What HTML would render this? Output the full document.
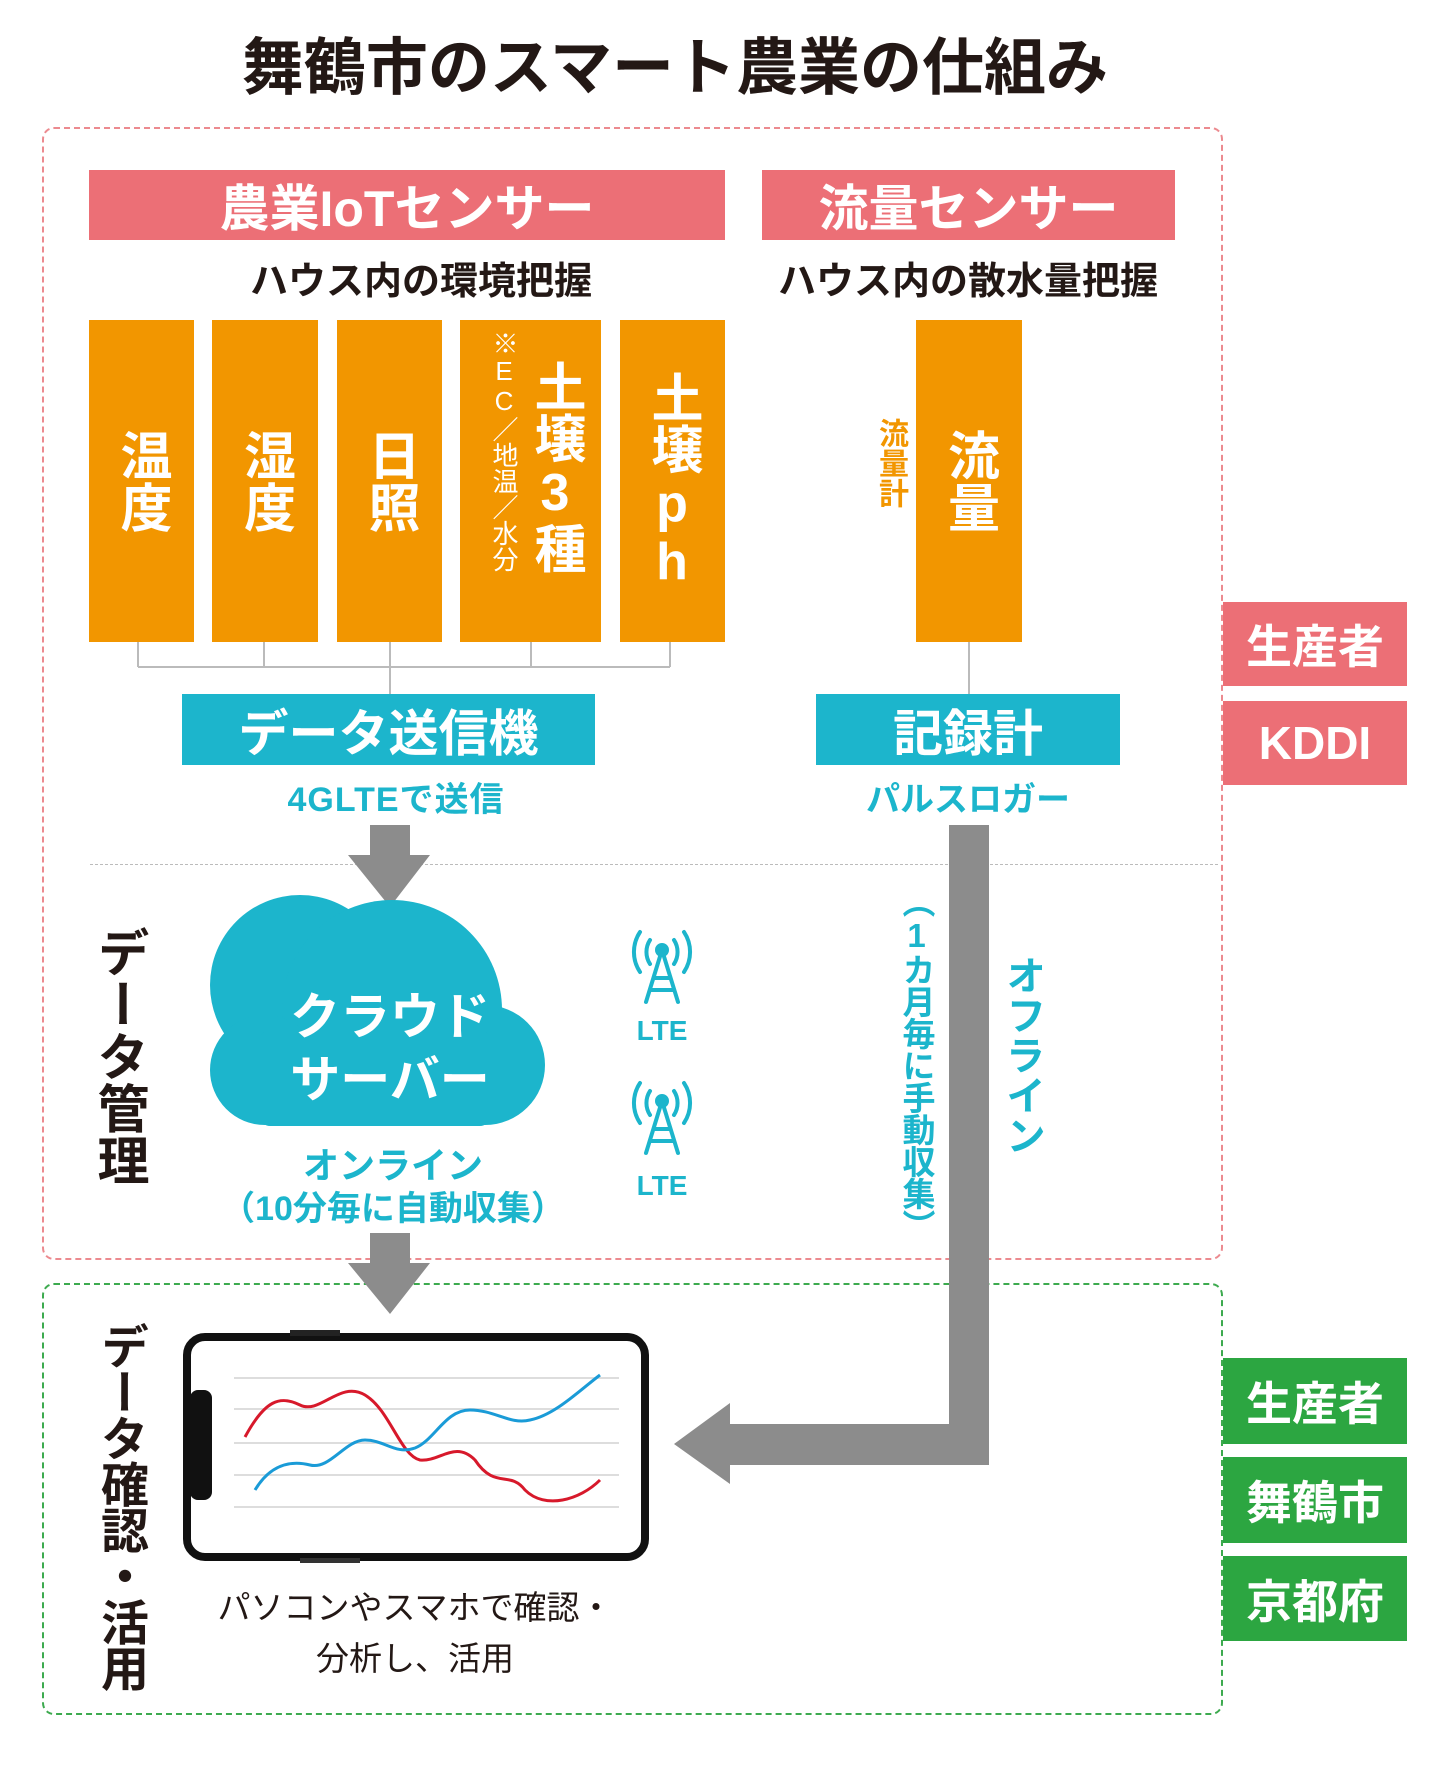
<!DOCTYPE html>
<html><head><meta charset="utf-8"><style>
*{margin:0;padding:0;box-sizing:border-box}
body{width:1437px;height:1768px;position:relative;background:#fff;font-family:"Liberation Sans","Noto Sans CJK JP",sans-serif;overflow:hidden}
.a{position:absolute}
.c{display:flex;align-items:center;justify-content:center;text-align:center;white-space:nowrap}
.pk{background:#ec6f76;color:#fff;font-weight:bold}
.cy{background:#1cb5cc;color:#fff;font-weight:bold}
.gr{background:#2ca641;color:#fff;font-weight:bold}
.or{background:#f29600;color:#fff;font-weight:bold}
.v{writing-mode:vertical-rl;text-orientation:upright}
</style></head><body>
<div class="a c" style="left:0;width:1350px;top:22px;height:80px;font-size:62px;font-weight:bold;color:#231815">舞鶴市のスマート農業の仕組み</div>

<div class="a" style="left:42px;top:127px;width:1181px;height:1133px;border:2px dashed #ec8a8f;border-radius:12px"></div>
<div class="a" style="left:42px;top:1283px;width:1181px;height:432px;border:2px dashed #3daa4f;border-radius:12px"></div>
<div class="a" style="left:90px;top:864px;width:1128px;border-top:1px dashed #bbb"></div>

<div class="a c pk" style="left:89px;top:170px;width:636px;height:70px;font-size:50px">農業IoTセンサー</div>
<div class="a c pk" style="left:762px;top:170px;width:413px;height:70px;font-size:50px">流量センサー</div>
<div class="a c" style="left:200px;width:442px;top:255px;height:44px;font-size:38px;font-weight:bold;color:#231815">ハウス内の環境把握</div>
<div class="a c" style="left:740px;width:456px;top:255px;height:44px;font-size:38px;font-weight:bold;color:#231815">ハウス内の散水量把握</div>

<div class="a c or v" style="left:89px;top:320px;width:105px;height:322px;font-size:52px">温度</div>
<div class="a c or v" style="left:212px;top:320px;width:106px;height:322px;font-size:52px">湿度</div>
<div class="a c or v" style="left:337px;top:320px;width:105px;height:322px;font-size:52px">日照</div>
<div class="a or" style="left:460px;top:320px;width:141px;height:322px"></div>
<div class="a v" style="left:486px;top:330px;font-size:26px;color:#fff;font-weight:normal">※EC／地温／水分</div>
<div class="a v" style="left:525px;top:360px;font-size:52px;color:#fff;font-weight:bold;line-height:60px">土壌3種</div>
<div class="a c or v" style="left:620px;top:320px;width:105px;height:322px;font-size:52px">土壌ph</div>
<div class="a c or v" style="left:916px;top:320px;width:106px;height:322px;font-size:52px">流量</div>
<div class="a v" style="left:868px;top:418px;font-size:30px;color:#f29600;font-weight:bold">流量計</div>

<svg class="a" style="left:0;top:0" width="1437" height="1768">
<g stroke="#bbb" stroke-width="2" fill="none">
<path d="M138 642V667M264 642V667M390 642V694M531 642V667M670 642V667M138 667H670"/>
<path d="M969 642V694"/>
</g>
<g fill="#8c8c8c">
<path d="M370 825H410V855H430L390 907L348 855H370Z"/>
<path d="M370 1233H410V1263H430L390 1314L348 1263H370Z"/>
<path d="M949 825H989V1465H730V1484L674 1444L730 1403V1424H949Z"/>
</g>
<g fill="#1cb5cc">
<circle cx="300" cy="985" r="90"/>
<circle cx="392" cy="1010" r="110"/>
<circle cx="485" cy="1065" r="60"/>
<circle cx="265" cy="1070" r="55"/>
<rect x="260" y="1030" width="230" height="96" rx="10"/>
</g>
<g stroke="#1cb5cc" fill="none" stroke-width="4" stroke-linecap="round">
<g transform="translate(662,960)">
<path d="M-22-28A36 36 0 0 0-22 12M22-28A36 36 0 0 1 22 12M-12-20A22 22 0 0 0-12 4M12-20A22 22 0 0 1 12 4"/>
<path d="M0-10L-16 42M0-10L16 42M-8 18H8M-12 30L12 30" stroke-width="4"/>
<circle cx="0" cy="-10" r="5" fill="#1cb5cc"/>
</g>
<g transform="translate(662,1111)">
<path d="M-22-28A36 36 0 0 0-22 12M22-28A36 36 0 0 1 22 12M-12-20A22 22 0 0 0-12 4M12-20A22 22 0 0 1 12 4"/>
<path d="M0-10L-16 42M0-10L16 42M-8 18H8M-12 30L12 30" stroke-width="4"/>
<circle cx="0" cy="-10" r="5" fill="#1cb5cc"/>
</g>
</g>
<rect x="187" y="1337" width="458" height="220" rx="18" fill="#fff" stroke="#111" stroke-width="8"/>
<rect x="290" y="1330" width="50" height="6" fill="#222"/>
<rect x="300" y="1558" width="60" height="5" fill="#333"/>
<rect x="190" y="1390" width="22" height="110" rx="8" fill="#111"/>
<g stroke="#ddd" stroke-width="2"><path d="M234 1378H619M234 1409H619M234 1443H619M234 1475H619M234 1507H619"/></g>
<path d="M245 1437C265 1400 280 1395 300 1405C320 1415 340 1380 365 1395C390 1410 400 1455 420 1460C440 1462 455 1440 475 1460C495 1490 510 1470 525 1490C545 1510 580 1500 600 1480" fill="none" stroke="#d7192b" stroke-width="3"/>
<path d="M255 1490C270 1465 290 1460 310 1465C330 1470 345 1440 365 1440C385 1440 395 1455 415 1448C435 1440 445 1410 470 1410C495 1410 510 1425 530 1420C555 1415 580 1390 600 1375" fill="none" stroke="#1a9bd7" stroke-width="3"/>
</svg>

<div class="a c cy" style="left:182px;top:694px;width:413px;height:71px;font-size:50px">データ送信機</div>
<div class="a c cy" style="left:816px;top:694px;width:304px;height:71px;font-size:50px">記録計</div>
<div class="a c" style="left:190px;width:412px;top:776px;height:40px;font-size:34px;font-weight:bold;color:#1cb5cc;letter-spacing:1px">4GLTEで送信</div>
<div class="a c" style="left:780px;width:376px;top:776px;height:40px;font-size:34px;font-weight:bold;color:#1cb5cc">パルスロガー</div>

<div class="a c" style="left:230px;width:320px;top:985px;height:56px;font-size:50px;font-weight:bold;color:#fff">クラウド</div>
<div class="a c" style="left:230px;width:320px;top:1048px;height:56px;font-size:50px;font-weight:bold;color:#fff">サーバー</div>
<div class="a c" style="left:200px;width:386px;top:1142px;height:42px;font-size:36px;font-weight:bold;color:#1cb5cc">オンライン</div>
<div class="a c" style="left:200px;width:386px;top:1184px;height:42px;font-size:34px;font-weight:bold;color:#1cb5cc">（10分毎に自動収集）</div>
<div class="a c" style="left:622px;width:80px;top:1014px;height:34px;font-size:28px;font-weight:bold;color:#1cb5cc">LTE</div>
<div class="a c" style="left:622px;width:80px;top:1169px;height:34px;font-size:28px;font-weight:bold;color:#1cb5cc">LTE</div>

<div class="a v" style="left:896px;top:885px;font-size:33px;font-weight:bold;color:#1cb5cc;line-height:40px;letter-spacing:-1px">（1カ月毎に手動収集）</div>
<div class="a v" style="left:1000px;top:955px;font-size:40px;font-weight:bold;color:#1cb5cc;line-height:44px">オフライン</div>

<div class="a v" style="left:90px;top:926px;font-size:52px;font-weight:bold;color:#231815;line-height:56px">データ管理</div>
<div class="a v" style="left:92px;top:1322px;font-size:48px;font-weight:bold;color:#231815;line-height:54px;letter-spacing:-2px">データ確認・活用</div>

<div class="a c" style="left:180px;width:470px;top:1585px;height:40px;font-size:33px;color:#231815">パソコンやスマホで確認・</div>
<div class="a c" style="left:180px;width:470px;top:1636px;height:40px;font-size:33px;color:#231815">分析し、活用</div>

<div class="a c pk" style="left:1223px;top:602px;width:184px;height:84px;font-size:46px">生産者</div>
<div class="a c pk" style="left:1223px;top:701px;width:184px;height:84px;font-size:46px">KDDI</div>
<div class="a c gr" style="left:1223px;top:1358px;width:184px;height:86px;font-size:46px">生産者</div>
<div class="a c gr" style="left:1223px;top:1457px;width:184px;height:86px;font-size:46px">舞鶴市</div>
<div class="a c gr" style="left:1223px;top:1556px;width:184px;height:85px;font-size:46px">京都府</div>
</body></html>
